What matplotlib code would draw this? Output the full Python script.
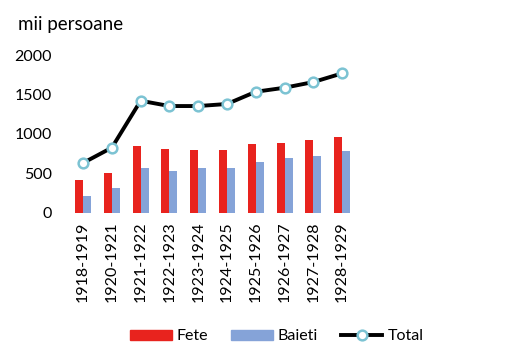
import matplotlib
matplotlib.use("Agg")
import matplotlib.pyplot as plt
import numpy as np
from matplotlib.lines import Line2D
from matplotlib.patches import Patch

categories = ["1918-1919", "1920-1921", "1921-1922", "1922-1923", "1923-1924",
              "1924-1925", "1925-1926", "1926-1927", "1927-1928", "1928-1929"]
fete = [418, 510, 852, 810, 797, 797, 870, 890, 924, 966]
baieti = [215, 313, 573, 532, 565, 573, 641, 692, 726, 785]
total = [633, 827, 1421, 1354, 1354, 1380, 1535, 1586, 1658, 1768]
yticks = [0, 500, 1000, 1500, 2000]

plt.rcParams['font.family'] = ['Lato', 'DejaVu Sans']

fig = plt.figure(figsize=(5.05, 3.44), dpi=100)
ax = fig.add_axes([0.136, 0.381, 0.570, 0.459])

x = np.arange(len(categories))
w = 0.28
red = "#E8231E"
blue = "#85A3D8"
ax.bar(x - w / 2, fete, width=w, color=red)
ax.bar(x + w / 2, baieti, width=w, color=blue)
ax.plot(x, total, color="black", lw=2.8, marker="o", markersize=7,
        markerfacecolor="white", markeredgecolor="#7CC3D3", markeredgewidth=1.8,
        zorder=3)

ax.set_xlim(-0.5, len(categories) - 0.5)
ax.set_ylim(0, 2000)
ax.set_yticks(yticks)
ax.set_yticklabels([str(t) for t in yticks], fontsize=11.5)
ax.set_xticks(x)
ax.set_xticklabels(categories, rotation=90, fontsize=11.5)
ax.tick_params(axis="both", length=0)
ax.tick_params(axis="y", pad=12)
ax.tick_params(axis="x", pad=6)
for s in ax.spines.values():
    s.set_visible(False)

fig.text(0.036, 0.928, "mii persoane", fontsize=13.5, ha="left", va="center")

handles = [Patch(color=red, label="Fete"),
           Patch(color=blue, label="Baieti"),
           Line2D([0], [0], color="black", lw=2.8, marker="o", markersize=7,
                  markerfacecolor="white", markeredgecolor="#7CC3D3",
                  markeredgewidth=1.8, label="Total")]
fig.legend(handles=handles, loc="center", bbox_to_anchor=(0.548, 0.022), ncol=3,
           frameon=False, fontsize=11.5, handlelength=2.6, handleheight=0.6,
           columnspacing=1.45, handletextpad=0.3)

fig.savefig("out.png", dpi=100)
